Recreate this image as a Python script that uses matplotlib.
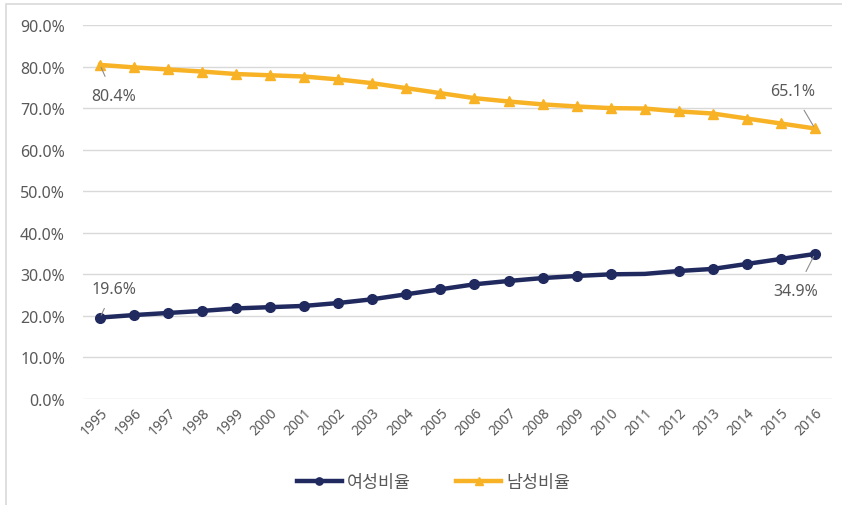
import matplotlib
matplotlib.use("Agg")
import matplotlib.pyplot as plt
from matplotlib.patches import Rectangle
from matplotlib.ticker import FuncFormatter

plt.rcParams['font.family'] = ['Noto Sans', 'Noto Sans CJK KR', 'DejaVu Sans']

years = [str(y) for y in range(1995, 2017)]
women = [19.6, 20.2, 20.7, 21.2, 21.8, 22.1, 22.4, 23.1, 24.0, 25.2, 26.4,
         27.6, 28.4, 29.1, 29.6, 30.0, 30.1, 30.8, 31.3, 32.5, 33.7, 34.9]
men = [80.4, 79.8, 79.3, 78.8, 78.2, 77.9, 77.6, 76.9, 76.0, 74.8, 73.6,
       72.4, 71.6, 70.9, 70.4, 70.0, 69.9, 69.2, 68.7, 67.5, 66.3, 65.1]
women_label = "여성비율"
men_label = "남성비율"

navy = "#202a5e"
gold = "#f8b225"
text_gray = "#595959"
grid_gray = "#d9d9d9"

fig = plt.figure(figsize=(8.42, 5.06), dpi=100)
ax = fig.add_axes([0.0986, 0.2095, 0.8894, 0.7391])

x = list(range(len(years)))
# the 2011 point of the women's series is drawn without a marker
women_marks = [i for i in x if years[i] != "2011"]

ax.plot(x, women, color=navy, lw=3.2, marker='o', markersize=7,
        markevery=women_marks, label=women_label, zorder=3)
ax.plot(x, men, color=gold, lw=3.2, marker='^', markersize=7,
        label=men_label, zorder=3)

ax.set_xlim(-0.5, len(years) - 0.5)
ax.set_ylim(0, 90)
ax.set_yticks(range(0, 91, 10))
ax.yaxis.set_major_formatter(FuncFormatter(lambda v, p: f"{v:.1f}%"))
ax.set_xticks(x)
ax.set_xticklabels(years, rotation=45, ha='right', rotation_mode='anchor')
ax.tick_params(axis='y', length=0, pad=13, labelsize=11.5, labelcolor=text_gray)
ax.tick_params(axis='x', length=0, pad=4, labelsize=10, labelcolor=text_gray)
ax.grid(axis='y', color=grid_gray, lw=1)
ax.set_axisbelow(True)
for s in ax.spines.values():
    s.set_visible(False)

# value labels at both ends with leader lines
def tag(txt, xi, yi, xt, yt):
    ax.annotate(txt, xy=(xi, yi), xytext=(xt, yt), textcoords='data',
                ha='center', va='center', fontsize=11.5, color=text_gray,
                arrowprops=dict(arrowstyle='-', color='#8c8c8c', lw=0.8,
                                shrinkA=7, shrinkB=2), zorder=4)

n = len(years) - 1
tag(f"{men[0]:.1f}%", 0, men[0], 0.4, 72.9)
tag(f"{women[0]:.1f}%", 0, women[0], 0.4, 26.5)
tag(f"{men[n]:.1f}%", n, men[n], n - 0.65, 74.1)
tag(f"{women[n]:.1f}%", n, women[n], n - 0.55, 26.0)

leg = fig.legend(loc='center', bbox_to_anchor=(0.515, 0.045), ncol=2,
                 frameon=False, fontsize=12.5, handlelength=2.6,
                 columnspacing=2.6, handletextpad=0.3, markerscale=0.75)
for t in leg.get_texts():
    t.set_color(text_gray)

fig.patches.append(Rectangle((6 / 842, -0.1), 1.2, 1 - 5 / 506 + 0.1,
                             transform=fig.transFigure, fill=False,
                             edgecolor='#d9d9d9', lw=1.2))

fig.savefig("out.png", dpi=100)
